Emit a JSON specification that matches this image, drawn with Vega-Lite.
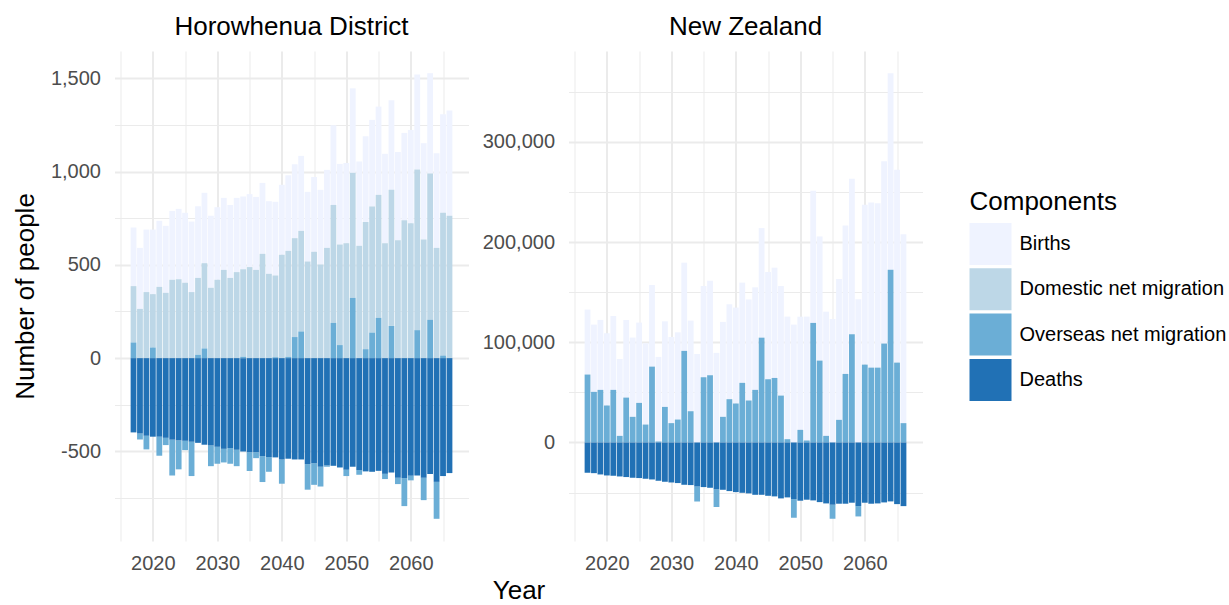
{
  "$schema": "https://vega.github.io/schema/vega-lite/v6.json",
  "padding": {"left": 11.5, "top": 14, "right": 0, "bottom": 0},
  "data": {"values": [
    {"Area":"H","Year":2017,"Component":"Births","Value":314},{"Area":"H","Year":2017,"Component":"Domestic net migration","Value":302},{"Area":"H","Year":2017,"Component":"Overseas net migration","Value":84},{"Area":"H","Year":2017,"Component":"Deaths","Value":-398},
    {"Area":"H","Year":2018,"Component":"Births","Value":327},{"Area":"H","Year":2018,"Component":"Domestic net migration","Value":264},{"Area":"H","Year":2018,"Component":"Overseas net migration","Value":-32},{"Area":"H","Year":2018,"Component":"Deaths","Value":-404},
    {"Area":"H","Year":2019,"Component":"Births","Value":335},{"Area":"H","Year":2019,"Component":"Domestic net migration","Value":354},{"Area":"H","Year":2019,"Component":"Overseas net migration","Value":-73},{"Area":"H","Year":2019,"Component":"Deaths","Value":-416},
    {"Area":"H","Year":2020,"Component":"Births","Value":346},{"Area":"H","Year":2020,"Component":"Domestic net migration","Value":286},{"Area":"H","Year":2020,"Component":"Overseas net migration","Value":57},{"Area":"H","Year":2020,"Component":"Deaths","Value":-421},
    {"Area":"H","Year":2021,"Component":"Births","Value":354},{"Area":"H","Year":2021,"Component":"Domestic net migration","Value":382},{"Area":"H","Year":2021,"Component":"Overseas net migration","Value":-102},{"Area":"H","Year":2021,"Component":"Deaths","Value":-421},
    {"Area":"H","Year":2022,"Component":"Births","Value":359},{"Area":"H","Year":2022,"Component":"Domestic net migration","Value":350},{"Area":"H","Year":2022,"Component":"Overseas net migration","Value":-39},{"Area":"H","Year":2022,"Component":"Deaths","Value":-427},
    {"Area":"H","Year":2023,"Component":"Births","Value":369},{"Area":"H","Year":2023,"Component":"Domestic net migration","Value":420},{"Area":"H","Year":2023,"Component":"Overseas net migration","Value":-192},{"Area":"H","Year":2023,"Component":"Deaths","Value":-437},
    {"Area":"H","Year":2024,"Component":"Births","Value":377},{"Area":"H","Year":2024,"Component":"Domestic net migration","Value":423},{"Area":"H","Year":2024,"Component":"Overseas net migration","Value":-155},{"Area":"H","Year":2024,"Component":"Deaths","Value":-441},
    {"Area":"H","Year":2025,"Component":"Births","Value":375},{"Area":"H","Year":2025,"Component":"Domestic net migration","Value":404},{"Area":"H","Year":2025,"Component":"Overseas net migration","Value":-50},{"Area":"H","Year":2025,"Component":"Deaths","Value":-443},
    {"Area":"H","Year":2026,"Component":"Births","Value":378},{"Area":"H","Year":2026,"Component":"Domestic net migration","Value":354},{"Area":"H","Year":2026,"Component":"Overseas net migration","Value":-184},{"Area":"H","Year":2026,"Component":"Deaths","Value":-448},
    {"Area":"H","Year":2027,"Component":"Births","Value":384},{"Area":"H","Year":2027,"Component":"Domestic net migration","Value":412},{"Area":"H","Year":2027,"Component":"Overseas net migration","Value":18},{"Area":"H","Year":2027,"Component":"Deaths","Value":-454},
    {"Area":"H","Year":2028,"Component":"Births","Value":377},{"Area":"H","Year":2028,"Component":"Domestic net migration","Value":457},{"Area":"H","Year":2028,"Component":"Overseas net migration","Value":52},{"Area":"H","Year":2028,"Component":"Deaths","Value":-464},
    {"Area":"H","Year":2029,"Component":"Births","Value":386},{"Area":"H","Year":2029,"Component":"Domestic net migration","Value":377},{"Area":"H","Year":2029,"Component":"Overseas net migration","Value":-111},{"Area":"H","Year":2029,"Component":"Deaths","Value":-468},
    {"Area":"H","Year":2030,"Component":"Births","Value":389},{"Area":"H","Year":2030,"Component":"Domestic net migration","Value":420},{"Area":"H","Year":2030,"Component":"Overseas net migration","Value":-91},{"Area":"H","Year":2030,"Component":"Deaths","Value":-475},
    {"Area":"H","Year":2031,"Component":"Births","Value":386},{"Area":"H","Year":2031,"Component":"Domestic net migration","Value":473},{"Area":"H","Year":2031,"Component":"Overseas net migration","Value":-73},{"Area":"H","Year":2031,"Component":"Deaths","Value":-486},
    {"Area":"H","Year":2032,"Component":"Births","Value":391},{"Area":"H","Year":2032,"Component":"Domestic net migration","Value":430},{"Area":"H","Year":2032,"Component":"Overseas net migration","Value":-84},{"Area":"H","Year":2032,"Component":"Deaths","Value":-482},
    {"Area":"H","Year":2033,"Component":"Births","Value":398},{"Area":"H","Year":2033,"Component":"Domestic net migration","Value":461},{"Area":"H","Year":2033,"Component":"Overseas net migration","Value":-88},{"Area":"H","Year":2033,"Component":"Deaths","Value":-491},
    {"Area":"H","Year":2034,"Component":"Births","Value":389},{"Area":"H","Year":2034,"Component":"Domestic net migration","Value":470},{"Area":"H","Year":2034,"Component":"Overseas net migration","Value":7},{"Area":"H","Year":2034,"Component":"Deaths","Value":-500},
    {"Area":"H","Year":2035,"Component":"Births","Value":391},{"Area":"H","Year":2035,"Component":"Domestic net migration","Value":488},{"Area":"H","Year":2035,"Component":"Overseas net migration","Value":-101},{"Area":"H","Year":2035,"Component":"Deaths","Value":-504},
    {"Area":"H","Year":2036,"Component":"Births","Value":391},{"Area":"H","Year":2036,"Component":"Domestic net migration","Value":473},{"Area":"H","Year":2036,"Component":"Overseas net migration","Value":-32},{"Area":"H","Year":2036,"Component":"Deaths","Value":-504},
    {"Area":"H","Year":2037,"Component":"Births","Value":380},{"Area":"H","Year":2037,"Component":"Domestic net migration","Value":559},{"Area":"H","Year":2037,"Component":"Overseas net migration","Value":-139},{"Area":"H","Year":2037,"Component":"Deaths","Value":-525},
    {"Area":"H","Year":2038,"Component":"Births","Value":389},{"Area":"H","Year":2038,"Component":"Domestic net migration","Value":452},{"Area":"H","Year":2038,"Component":"Overseas net migration","Value":-79},{"Area":"H","Year":2038,"Component":"Deaths","Value":-530},
    {"Area":"H","Year":2039,"Component":"Births","Value":395},{"Area":"H","Year":2039,"Component":"Domestic net migration","Value":438},{"Area":"H","Year":2039,"Component":"Overseas net migration","Value":5},{"Area":"H","Year":2039,"Component":"Deaths","Value":-532},
    {"Area":"H","Year":2040,"Component":"Births","Value":375},{"Area":"H","Year":2040,"Component":"Domestic net migration","Value":554},{"Area":"H","Year":2040,"Component":"Overseas net migration","Value":-130},{"Area":"H","Year":2040,"Component":"Deaths","Value":-543},
    {"Area":"H","Year":2041,"Component":"Births","Value":405},{"Area":"H","Year":2041,"Component":"Domestic net migration","Value":568},{"Area":"H","Year":2041,"Component":"Overseas net migration","Value":7},{"Area":"H","Year":2041,"Component":"Deaths","Value":-539},
    {"Area":"H","Year":2042,"Component":"Births","Value":396},{"Area":"H","Year":2042,"Component":"Domestic net migration","Value":530},{"Area":"H","Year":2042,"Component":"Overseas net migration","Value":113},{"Area":"H","Year":2042,"Component":"Deaths","Value":-543},
    {"Area":"H","Year":2043,"Component":"Births","Value":402},{"Area":"H","Year":2043,"Component":"Domestic net migration","Value":539},{"Area":"H","Year":2043,"Component":"Overseas net migration","Value":143},{"Area":"H","Year":2043,"Component":"Deaths","Value":-543},
    {"Area":"H","Year":2044,"Component":"Births","Value":373},{"Area":"H","Year":2044,"Component":"Domestic net migration","Value":518},{"Area":"H","Year":2044,"Component":"Overseas net migration","Value":-137},{"Area":"H","Year":2044,"Component":"Deaths","Value":-568},
    {"Area":"H","Year":2045,"Component":"Births","Value":401},{"Area":"H","Year":2045,"Component":"Domestic net migration","Value":570},{"Area":"H","Year":2045,"Component":"Overseas net migration","Value":-116},{"Area":"H","Year":2045,"Component":"Deaths","Value":-563},
    {"Area":"H","Year":2046,"Component":"Births","Value":400},{"Area":"H","Year":2046,"Component":"Domestic net migration","Value":502},{"Area":"H","Year":2046,"Component":"Overseas net migration","Value":-106},{"Area":"H","Year":2046,"Component":"Deaths","Value":-582},
    {"Area":"H","Year":2047,"Component":"Births","Value":418},{"Area":"H","Year":2047,"Component":"Domestic net migration","Value":591},{"Area":"H","Year":2047,"Component":"Overseas net migration","Value":-7},{"Area":"H","Year":2047,"Component":"Deaths","Value":-575},
    {"Area":"H","Year":2048,"Component":"Births","Value":427},{"Area":"H","Year":2048,"Component":"Domestic net migration","Value":632},{"Area":"H","Year":2048,"Component":"Overseas net migration","Value":189},{"Area":"H","Year":2048,"Component":"Deaths","Value":-577},
    {"Area":"H","Year":2049,"Component":"Births","Value":432},{"Area":"H","Year":2049,"Component":"Domestic net migration","Value":539},{"Area":"H","Year":2049,"Component":"Overseas net migration","Value":70},{"Area":"H","Year":2049,"Component":"Deaths","Value":-586},
    {"Area":"H","Year":2050,"Component":"Births","Value":430},{"Area":"H","Year":2050,"Component":"Domestic net migration","Value":616},{"Area":"H","Year":2050,"Component":"Overseas net migration","Value":-34},{"Area":"H","Year":2050,"Component":"Deaths","Value":-598},
    {"Area":"H","Year":2051,"Component":"Births","Value":453},{"Area":"H","Year":2051,"Component":"Domestic net migration","Value":670},{"Area":"H","Year":2051,"Component":"Overseas net migration","Value":323},{"Area":"H","Year":2051,"Component":"Deaths","Value":-582},
    {"Area":"H","Year":2052,"Component":"Births","Value":452},{"Area":"H","Year":2052,"Component":"Domestic net migration","Value":602},{"Area":"H","Year":2052,"Component":"Overseas net migration","Value":-25},{"Area":"H","Year":2052,"Component":"Deaths","Value":-600},
    {"Area":"H","Year":2053,"Component":"Births","Value":459},{"Area":"H","Year":2053,"Component":"Domestic net migration","Value":682},{"Area":"H","Year":2053,"Component":"Overseas net migration","Value":48},{"Area":"H","Year":2053,"Component":"Deaths","Value":-607},
    {"Area":"H","Year":2054,"Component":"Births","Value":464},{"Area":"H","Year":2054,"Component":"Domestic net migration","Value":676},{"Area":"H","Year":2054,"Component":"Overseas net migration","Value":137},{"Area":"H","Year":2054,"Component":"Deaths","Value":-609},
    {"Area":"H","Year":2055,"Component":"Births","Value":473},{"Area":"H","Year":2055,"Component":"Domestic net migration","Value":659},{"Area":"H","Year":2055,"Component":"Overseas net migration","Value":216},{"Area":"H","Year":2055,"Component":"Deaths","Value":-604},
    {"Area":"H","Year":2056,"Component":"Births","Value":479},{"Area":"H","Year":2056,"Component":"Domestic net migration","Value":616},{"Area":"H","Year":2056,"Component":"Overseas net migration","Value":-28},{"Area":"H","Year":2056,"Component":"Deaths","Value":-620},
    {"Area":"H","Year":2057,"Component":"Births","Value":480},{"Area":"H","Year":2057,"Component":"Domestic net migration","Value":729},{"Area":"H","Year":2057,"Component":"Overseas net migration","Value":173},{"Area":"H","Year":2057,"Component":"Deaths","Value":-613},
    {"Area":"H","Year":2058,"Component":"Births","Value":473},{"Area":"H","Year":2058,"Component":"Domestic net migration","Value":632},{"Area":"H","Year":2058,"Component":"Overseas net migration","Value":-34},{"Area":"H","Year":2058,"Component":"Deaths","Value":-641},
    {"Area":"H","Year":2059,"Component":"Births","Value":468},{"Area":"H","Year":2059,"Component":"Domestic net migration","Value":739},{"Area":"H","Year":2059,"Component":"Overseas net migration","Value":-150},{"Area":"H","Year":2059,"Component":"Deaths","Value":-643},
    {"Area":"H","Year":2060,"Component":"Births","Value":500},{"Area":"H","Year":2060,"Component":"Domestic net migration","Value":723},{"Area":"H","Year":2060,"Component":"Overseas net migration","Value":-25},{"Area":"H","Year":2060,"Component":"Deaths","Value":-630},
    {"Area":"H","Year":2061,"Component":"Births","Value":509},{"Area":"H","Year":2061,"Component":"Domestic net migration","Value":861},{"Area":"H","Year":2061,"Component":"Overseas net migration","Value":150},{"Area":"H","Year":2061,"Component":"Deaths","Value":-629},
    {"Area":"H","Year":2062,"Component":"Births","Value":516},{"Area":"H","Year":2062,"Component":"Domestic net migration","Value":636},{"Area":"H","Year":2062,"Component":"Overseas net migration","Value":-120},{"Area":"H","Year":2062,"Component":"Deaths","Value":-641},
    {"Area":"H","Year":2063,"Component":"Births","Value":538},{"Area":"H","Year":2063,"Component":"Domestic net migration","Value":784},{"Area":"H","Year":2063,"Component":"Overseas net migration","Value":205},{"Area":"H","Year":2063,"Component":"Deaths","Value":-621},
    {"Area":"H","Year":2064,"Component":"Births","Value":507},{"Area":"H","Year":2064,"Component":"Domestic net migration","Value":591},{"Area":"H","Year":2064,"Component":"Overseas net migration","Value":-198},{"Area":"H","Year":2064,"Component":"Deaths","Value":-663},
    {"Area":"H","Year":2065,"Component":"Births","Value":528},{"Area":"H","Year":2065,"Component":"Domestic net migration","Value":765},{"Area":"H","Year":2065,"Component":"Overseas net migration","Value":14},{"Area":"H","Year":2065,"Component":"Deaths","Value":-632},
    {"Area":"H","Year":2066,"Component":"Births","Value":564},{"Area":"H","Year":2066,"Component":"Domestic net migration","Value":763},{"Area":"H","Year":2066,"Component":"Overseas net migration","Value":0},{"Area":"H","Year":2066,"Component":"Deaths","Value":-616},

    {"Area":"NZ","Year":2017,"Component":"Births","Value":64800},{"Area":"NZ","Year":2017,"Component":"Overseas net migration","Value":67800},{"Area":"NZ","Year":2017,"Component":"Deaths","Value":-30200},
    {"Area":"NZ","Year":2018,"Component":"Births","Value":67100},{"Area":"NZ","Year":2018,"Component":"Overseas net migration","Value":50500},{"Area":"NZ","Year":2018,"Component":"Deaths","Value":-30600},
    {"Area":"NZ","Year":2019,"Component":"Births","Value":69800},{"Area":"NZ","Year":2019,"Component":"Overseas net migration","Value":52500},{"Area":"NZ","Year":2019,"Component":"Deaths","Value":-31900},
    {"Area":"NZ","Year":2020,"Component":"Births","Value":72100},{"Area":"NZ","Year":2020,"Component":"Overseas net migration","Value":36900},{"Area":"NZ","Year":2020,"Component":"Deaths","Value":-32900},
    {"Area":"NZ","Year":2021,"Component":"Births","Value":73700},{"Area":"NZ","Year":2021,"Component":"Overseas net migration","Value":52500},{"Area":"NZ","Year":2021,"Component":"Deaths","Value":-33200},
    {"Area":"NZ","Year":2022,"Component":"Births","Value":76700},{"Area":"NZ","Year":2022,"Component":"Overseas net migration","Value":6600},{"Area":"NZ","Year":2022,"Component":"Deaths","Value":-33900},
    {"Area":"NZ","Year":2023,"Component":"Births","Value":77400},{"Area":"NZ","Year":2023,"Component":"Overseas net migration","Value":44800},{"Area":"NZ","Year":2023,"Component":"Deaths","Value":-34500},
    {"Area":"NZ","Year":2024,"Component":"Births","Value":79100},{"Area":"NZ","Year":2024,"Component":"Overseas net migration","Value":25600},{"Area":"NZ","Year":2024,"Component":"Deaths","Value":-35200},
    {"Area":"NZ","Year":2025,"Component":"Births","Value":80100},{"Area":"NZ","Year":2025,"Component":"Overseas net migration","Value":39500},{"Area":"NZ","Year":2025,"Component":"Deaths","Value":-35500},
    {"Area":"NZ","Year":2026,"Component":"Births","Value":81100},{"Area":"NZ","Year":2026,"Component":"Overseas net migration","Value":17900},{"Area":"NZ","Year":2026,"Component":"Deaths","Value":-36200},
    {"Area":"NZ","Year":2027,"Component":"Births","Value":81400},{"Area":"NZ","Year":2027,"Component":"Overseas net migration","Value":75700},{"Area":"NZ","Year":2027,"Component":"Deaths","Value":-36900},
    {"Area":"NZ","Year":2028,"Component":"Births","Value":84400},{"Area":"NZ","Year":2028,"Component":"Overseas net migration","Value":1000},{"Area":"NZ","Year":2028,"Component":"Deaths","Value":-38200},
    {"Area":"NZ","Year":2029,"Component":"Births","Value":85400},{"Area":"NZ","Year":2029,"Component":"Overseas net migration","Value":35500},{"Area":"NZ","Year":2029,"Component":"Deaths","Value":-39200},
    {"Area":"NZ","Year":2030,"Component":"Births","Value":86000},{"Area":"NZ","Year":2030,"Component":"Overseas net migration","Value":19300},{"Area":"NZ","Year":2030,"Component":"Deaths","Value":-39900},
    {"Area":"NZ","Year":2031,"Component":"Births","Value":87000},{"Area":"NZ","Year":2031,"Component":"Overseas net migration","Value":22900},{"Area":"NZ","Year":2031,"Component":"Deaths","Value":-40500},
    {"Area":"NZ","Year":2032,"Component":"Births","Value":88000},{"Area":"NZ","Year":2032,"Component":"Overseas net migration","Value":91400},{"Area":"NZ","Year":2032,"Component":"Deaths","Value":-42200},
    {"Area":"NZ","Year":2033,"Component":"Births","Value":90400},{"Area":"NZ","Year":2033,"Component":"Overseas net migration","Value":31200},{"Area":"NZ","Year":2033,"Component":"Deaths","Value":-42500},
    {"Area":"NZ","Year":2034,"Component":"Births","Value":88400},{"Area":"NZ","Year":2034,"Component":"Overseas net migration","Value":-14900},{"Area":"NZ","Year":2034,"Component":"Deaths","Value":-43900},
    {"Area":"NZ","Year":2035,"Component":"Births","Value":91000},{"Area":"NZ","Year":2035,"Component":"Overseas net migration","Value":65100},{"Area":"NZ","Year":2035,"Component":"Deaths","Value":-44500},
    {"Area":"NZ","Year":2036,"Component":"Births","Value":94300},{"Area":"NZ","Year":2036,"Component":"Overseas net migration","Value":67100},{"Area":"NZ","Year":2036,"Component":"Deaths","Value":-45200},
    {"Area":"NZ","Year":2037,"Component":"Births","Value":89400},{"Area":"NZ","Year":2037,"Component":"Overseas net migration","Value":-17600},{"Area":"NZ","Year":2037,"Component":"Deaths","Value":-46800},
    {"Area":"NZ","Year":2038,"Component":"Births","Value":94700},{"Area":"NZ","Year":2038,"Component":"Overseas net migration","Value":25600},{"Area":"NZ","Year":2038,"Component":"Deaths","Value":-47200},
    {"Area":"NZ","Year":2039,"Component":"Births","Value":94700},{"Area":"NZ","Year":2039,"Component":"Overseas net migration","Value":43200},{"Area":"NZ","Year":2039,"Component":"Deaths","Value":-48500},
    {"Area":"NZ","Year":2040,"Component":"Births","Value":95700},{"Area":"NZ","Year":2040,"Component":"Overseas net migration","Value":38900},{"Area":"NZ","Year":2040,"Component":"Deaths","Value":-49500},
    {"Area":"NZ","Year":2041,"Component":"Births","Value":100000},{"Area":"NZ","Year":2041,"Component":"Overseas net migration","Value":59500},{"Area":"NZ","Year":2041,"Component":"Deaths","Value":-50200},
    {"Area":"NZ","Year":2042,"Component":"Births","Value":100800},{"Area":"NZ","Year":2042,"Component":"Overseas net migration","Value":41900},{"Area":"NZ","Year":2042,"Component":"Deaths","Value":-50800},
    {"Area":"NZ","Year":2043,"Component":"Births","Value":102300},{"Area":"NZ","Year":2043,"Component":"Overseas net migration","Value":52500},{"Area":"NZ","Year":2043,"Component":"Deaths","Value":-52200},
    {"Area":"NZ","Year":2044,"Component":"Births","Value":109300},{"Area":"NZ","Year":2044,"Component":"Overseas net migration","Value":104600},{"Area":"NZ","Year":2044,"Component":"Deaths","Value":-52200},
    {"Area":"NZ","Year":2045,"Component":"Births","Value":107000},{"Area":"NZ","Year":2045,"Component":"Overseas net migration","Value":63100},{"Area":"NZ","Year":2045,"Component":"Deaths","Value":-53200},
    {"Area":"NZ","Year":2046,"Component":"Births","Value":110000},{"Area":"NZ","Year":2046,"Component":"Overseas net migration","Value":64400},{"Area":"NZ","Year":2046,"Component":"Deaths","Value":-53800},
    {"Area":"NZ","Year":2047,"Component":"Births","Value":109300},{"Area":"NZ","Year":2047,"Component":"Overseas net migration","Value":46800},{"Area":"NZ","Year":2047,"Component":"Deaths","Value":-55800},
    {"Area":"NZ","Year":2048,"Component":"Births","Value":122300},{"Area":"NZ","Year":2048,"Component":"Overseas net migration","Value":3300},{"Area":"NZ","Year":2048,"Component":"Deaths","Value":-54800},
    {"Area":"NZ","Year":2049,"Component":"Births","Value":117600},{"Area":"NZ","Year":2049,"Component":"Overseas net migration","Value":-18600},{"Area":"NZ","Year":2049,"Component":"Deaths","Value":-56500},
    {"Area":"NZ","Year":2050,"Component":"Births","Value":112900},{"Area":"NZ","Year":2050,"Component":"Overseas net migration","Value":12600},{"Area":"NZ","Year":2050,"Component":"Deaths","Value":-58100},
    {"Area":"NZ","Year":2051,"Component":"Births","Value":123600},{"Area":"NZ","Year":2051,"Component":"Overseas net migration","Value":2000},{"Area":"NZ","Year":2051,"Component":"Deaths","Value":-57100},
    {"Area":"NZ","Year":2052,"Component":"Births","Value":131900},{"Area":"NZ","Year":2052,"Component":"Overseas net migration","Value":119300},{"Area":"NZ","Year":2052,"Component":"Deaths","Value":-57800},
    {"Area":"NZ","Year":2053,"Component":"Births","Value":123900},{"Area":"NZ","Year":2053,"Component":"Overseas net migration","Value":81700},{"Area":"NZ","Year":2053,"Component":"Deaths","Value":-59500},
    {"Area":"NZ","Year":2054,"Component":"Births","Value":123900},{"Area":"NZ","Year":2054,"Component":"Overseas net migration","Value":6600},{"Area":"NZ","Year":2054,"Component":"Deaths","Value":-60800},
    {"Area":"NZ","Year":2055,"Component":"Births","Value":123200},{"Area":"NZ","Year":2055,"Component":"Overseas net migration","Value":-14000},{"Area":"NZ","Year":2055,"Component":"Deaths","Value":-62100},
    {"Area":"NZ","Year":2056,"Component":"Births","Value":140500},{"Area":"NZ","Year":2056,"Component":"Overseas net migration","Value":22600},{"Area":"NZ","Year":2056,"Component":"Deaths","Value":-61100},
    {"Area":"NZ","Year":2057,"Component":"Births","Value":148200},{"Area":"NZ","Year":2057,"Component":"Overseas net migration","Value":68400},{"Area":"NZ","Year":2057,"Component":"Deaths","Value":-61100},
    {"Area":"NZ","Year":2058,"Component":"Births","Value":155100},{"Area":"NZ","Year":2058,"Component":"Overseas net migration","Value":108000},{"Area":"NZ","Year":2058,"Component":"Deaths","Value":-60100},
    {"Area":"NZ","Year":2059,"Component":"Births","Value":142800},{"Area":"NZ","Year":2059,"Component":"Overseas net migration","Value":-10300},{"Area":"NZ","Year":2059,"Component":"Deaths","Value":-63500},
    {"Area":"NZ","Year":2060,"Component":"Births","Value":159500},{"Area":"NZ","Year":2060,"Component":"Overseas net migration","Value":77700},{"Area":"NZ","Year":2060,"Component":"Deaths","Value":-60100},
    {"Area":"NZ","Year":2061,"Component":"Births","Value":164800},{"Area":"NZ","Year":2061,"Component":"Overseas net migration","Value":74700},{"Area":"NZ","Year":2061,"Component":"Deaths","Value":-61100},
    {"Area":"NZ","Year":2062,"Component":"Births","Value":164100},{"Area":"NZ","Year":2062,"Component":"Overseas net migration","Value":74700},{"Area":"NZ","Year":2062,"Component":"Deaths","Value":-60800},
    {"Area":"NZ","Year":2063,"Component":"Births","Value":182000},{"Area":"NZ","Year":2063,"Component":"Overseas net migration","Value":98700},{"Area":"NZ","Year":2063,"Component":"Deaths","Value":-59800},
    {"Area":"NZ","Year":2064,"Component":"Births","Value":196000},{"Area":"NZ","Year":2064,"Component":"Overseas net migration","Value":172400},{"Area":"NZ","Year":2064,"Component":"Deaths","Value":-58800},
    {"Area":"NZ","Year":2065,"Component":"Births","Value":192300},{"Area":"NZ","Year":2065,"Component":"Overseas net migration","Value":79700},{"Area":"NZ","Year":2065,"Component":"Deaths","Value":-61500},
    {"Area":"NZ","Year":2066,"Component":"Births","Value":188400},{"Area":"NZ","Year":2066,"Component":"Overseas net migration","Value":19300},{"Area":"NZ","Year":2066,"Component":"Deaths","Value":-63500}
  ]},
  "spacing": 100,
  "bounds": "flush",
  "hconcat": [
    {
      "title": {"text": "Horowhenua District", "frame": "group", "anchor": "middle", "baseline": "alphabetic", "offset": -10},
      "width": 354,
      "height": 490,
      "transform": [{"filter": "datum.Area === 'H'"}],
      "encoding": {
        "x": {"field": "Year", "type": "quantitative",
          "scale": {"domain": [2014.05, 2068.95], "nice": false, "zero": false, "padding": 0},
          "axis": {"title": "Year", "titleX": 404, "titleAlign": "center", "titlePadding": 4, "labelPadding": 12,
            "values": [2015, 2020, 2025, 2030, 2035, 2040, 2045, 2050, 2055, 2060, 2065],
            "labelExpr": "datum.value % 10 === 0 ? '' + datum.value : ''",
            "gridWidth": {"condition": {"test": "datum.value % 10 === 0", "value": 2}, "value": 1}}},
        "y": {"field": "Value", "type": "quantitative",
          "scale": {"domain": [-980, 1646], "nice": false, "zero": false},
          "axis": {"title": "Number of people", "titlePadding": 12,
            "values": [-750, -500, -250, 0, 250, 500, 750, 1000, 1250, 1500],
            "labelExpr": "datum.value % 500 === 0 ? (datum.value < 0 ? '-' + format(-datum.value, ',') : format(datum.value, ',')) : ''",
            "gridWidth": {"condition": {"test": "datum.value % 500 === 0", "value": 2}, "value": 1}}},
        "color": {"field": "Component", "type": "nominal",
          "scale": {"domain": ["Births", "Domestic net migration", "Overseas net migration", "Deaths"], "range": ["#eff3ff", "#bdd7e7", "#6baed6", "#2171b5"]},
          "legend": {"title": "Components", "orient": "none", "legendX": 855, "legendY": 138}}
      },
      "layer": [
        {"transform": [{"filter": "datum.Value > 0"}], "mark": {"type": "bar", "width": 5.8},
          "encoding": {"order": {"field": "Component", "type": "ordinal", "sort": "descending"}}},
        {"transform": [{"filter": "datum.Value < 0"}], "mark": {"type": "bar", "width": 5.8},
          "encoding": {"order": {"field": "Component", "type": "ordinal", "sort": "ascending"}}}
      ]
    },
    {
      "title": {"text": "New Zealand", "frame": "group", "anchor": "middle", "baseline": "alphabetic", "offset": -10},
      "width": 354,
      "height": 490,
      "transform": [{"filter": "datum.Area === 'NZ'"}],
      "encoding": {
        "x": {"field": "Year", "type": "quantitative",
          "scale": {"domain": [2014.05, 2068.95], "nice": false, "zero": false, "padding": 0},
          "axis": {"title": null, "labelPadding": 12,
            "values": [2015, 2020, 2025, 2030, 2035, 2040, 2045, 2050, 2055, 2060, 2065],
            "labelExpr": "datum.value % 10 === 0 ? '' + datum.value : ''",
            "gridWidth": {"condition": {"test": "datum.value % 10 === 0", "value": 2}, "value": 1}}},
        "y": {"field": "Value", "type": "quantitative",
          "scale": {"domain": [-98300, 390600], "nice": false, "zero": false},
          "axis": {"title": null,
            "values": [-50000, 0, 50000, 100000, 150000, 200000, 250000, 300000, 350000],
            "labelExpr": "datum.value % 100000 === 0 ? format(datum.value, ',') : ''",
            "gridWidth": {"condition": {"test": "datum.value % 100000 === 0", "value": 2}, "value": 1}}},
        "color": {"field": "Component", "type": "nominal",
          "scale": {"domain": ["Births", "Domestic net migration", "Overseas net migration", "Deaths"], "range": ["#eff3ff", "#bdd7e7", "#6baed6", "#2171b5"]},
          "legend": {"title": "Components", "orient": "none", "legendX": 855, "legendY": 138}}
      },
      "layer": [
        {"transform": [{"filter": "datum.Value > 0"}], "mark": {"type": "bar", "width": 5.8},
          "encoding": {"order": {"field": "Component", "type": "ordinal", "sort": "descending"}}},
        {"transform": [{"filter": "datum.Value < 0"}], "mark": {"type": "bar", "width": 5.8},
          "encoding": {"order": {"field": "Component", "type": "ordinal", "sort": "ascending"}}}
      ]
    }
  ],
  "resolve": {"scale": {"y": "independent", "x": "independent"}},
  "config": {
    "font": "Liberation Sans",
    "view": {"stroke": null},
    "axis": {"domain": false, "ticks": false, "labelFontSize": 20, "labelColor": "#4d4d4d", "labelPadding": 14,
      "gridColor": "#ebebeb", "titleFontSize": 26, "titleFontWeight": "normal", "titleColor": "#000000"},
    "title": {"fontSize": 26, "fontWeight": "normal", "color": "#000000"},
    "legend": {"symbolType": "square", "symbolSize": 1764, "symbolStrokeWidth": 0, "symbolOpacity": 1,
      "labelFontSize": 20, "labelColor": "#000000", "labelOffset": 8, "rowPadding": 3.3, "labelLimit": 400,
      "titleFontSize": 26, "titleFontWeight": "normal", "titleColor": "#000000", "titlePadding": 8, "padding": 0}
  }
}
